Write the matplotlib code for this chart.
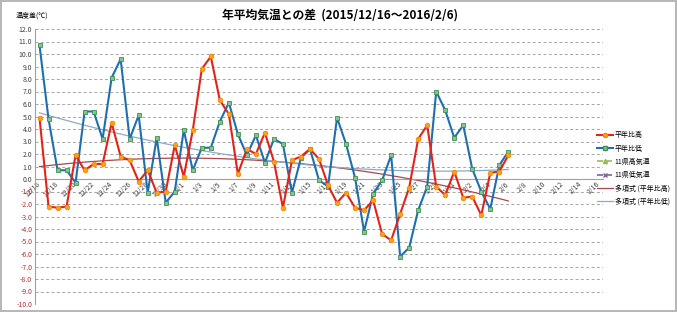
import matplotlib.pyplot as plt
import numpy as np
from matplotlib.lines import Line2D

plt.rcParams['font.family'] = ['Noto Sans CJK JP', 'DejaVu Sans']

# 2015/12/16 .. 2016/2/6 (daily)
high = [4.9, -2.2, -2.3, -2.2, 1.9, 0.7, 1.2, 1.2, 4.5, 1.8,
        1.5, -0.2, 0.7, -1.1, -1.0, 2.7, 0.2, 3.9, 8.8, 9.8,
        6.3, 5.2, 0.4, 2.4, 2.0, 3.7, 1.4, -2.3, 1.5, 1.8,
        2.4, 1.6, -0.5, -1.9, -1.1, -2.3, -2.5, -1.7, -4.4, -4.9,
        -2.8, -0.7, 3.2, 4.3, -0.6, -1.3, 0.6, -1.5, -1.4, -2.9,
        0.5, 0.6, 1.9]
low = [10.7, 4.8, 0.7, 0.7, -0.3, 5.4, 5.4, 3.2, 8.1, 9.6,
       3.2, 5.1, -1.1, 3.3, -1.9, -1.0, 3.9, 0.7, 2.5, 2.5,
       4.6, 6.1, 3.6, 1.9, 3.5, 1.3, 3.2, 2.8, -1.1, 1.7,
       2.4, -0.1, -0.6, 4.9, 2.8, 0.1, -4.2, -1.2, -0.1, 1.9,
       -6.2, -5.5, -2.5, -0.6, 7.0, 5.5, 3.3, 4.3, 0.8, -1.0,
       -2.4, 1.1, 2.2]
date_labels = ['12/16', '12/18', '12/20', '12/22', '12/24', '12/26', '12/28', '12/30',
               '1/1', '1/3', '1/5', '1/7', '1/9', '1/11', '1/13', '1/15', '1/17',
               '1/19', '1/21', '1/23', '1/25', '1/27', '1/29', '1/31',
               '2/2', '2/4', '2/6', '2/8', '2/10', '2/12', '2/14', '2/16']
n_days = 63  # category axis 12/16 .. 2/16

x = np.arange(len(high))

fig = plt.figure(figsize=(6.77, 3.12), dpi=100, edgecolor='#b8b8b8', linewidth=1.5)
ax = fig.add_axes([35 / 677, 8 / 312, 568 / 677, 275 / 312])

# axis line at 0 (do this first, it resets the ticks)
ax.spines['bottom'].set_position(('data', 0))
ax.spines['bottom'].set_color('#a0a0a0')
ax.spines['left'].set_color('#a0a0a0')
ax.spines['top'].set_visible(False)
ax.spines['right'].set_visible(False)

for v in range(-10, 13):
    if v != 0:
        ax.axhline(v, color='#a6a6a6', lw=0.7, ls=(0, (3, 2.5)), zorder=0)

# polynomial trend lines (order 2, like Excel)
xx = np.linspace(0, len(high) - 1, 200)
ax.plot(xx, np.polyval(np.polyfit(x, high, 2), xx), color='#a8484c', lw=0.9, zorder=2)
ax.plot(xx, np.polyval(np.polyfit(x, low, 2), xx), color='#8eaac8', lw=0.9, zorder=2)

ax.plot(x, high, color='#e2231a', lw=1.5, marker='o', ms=3.3,
        mfc='#f7a21c', mec='#f08800', mew=0.6, zorder=4)
ax.plot(x, low, color='#1f6fae', lw=1.5, marker='s', ms=3.3,
        mfc='#86c48a', mec='#3f8f55', mew=0.6, zorder=3)

ax.set_xlim(-0.5, n_days - 0.5)
ax.set_ylim(-10, 12)
ax.tick_params(length=0, pad=2)
ax.tick_params(axis='x', pad=3)
ax.set_yticks(range(-10, 13))
ax.set_yticklabels([f'{v:.1f}' for v in range(-10, 13)], fontsize=5)
for t, v in zip(ax.get_yticklabels(), range(-10, 13)):
    t.set_color('#b03030' if v < 0 else '#404040')
ax.set_xticks(range(0, n_days, 2))
ax.set_xticklabels(date_labels, fontsize=5, rotation=45, ha='right', va='center',
                   rotation_mode='anchor', color='#404040')

fig.text(0.502, 0.952, '年平均気温との差  (2015/12/16～2016/2/6)', ha='center', va='center',
         fontsize=8.5, fontweight='bold')
fig.text(16 / 677, 0.95, '温度差(℃)', ha='left', va='center', fontsize=5)

handles = [
    Line2D([], [], color='#e2231a', lw=1.5, marker='o', ms=3, mfc='#f7a21c', mec='#f08800'),
    Line2D([], [], color='#1f6fae', lw=1.5, marker='s', ms=3, mfc='#86c48a', mec='#3f8f55'),
    Line2D([], [], color='#9bbb59', lw=1.2, ls='--', marker='^', ms=3),
    Line2D([], [], color='#8064a2', lw=1.2, ls='--', marker='x', ms=3),
    Line2D([], [], color='#a8484c', lw=0.9),
    Line2D([], [], color='#8eaac8', lw=0.9),
]
labels = ['平年比高', '平年比低', '11県高気温', '11県低気温', '多項式 (平年比高)', '多項式 (平年比低)']
fig.legend(handles, labels, loc='upper left', bbox_to_anchor=(594 / 677, 1 - 128 / 312),
           frameon=False, fontsize=5, handlelength=2.2, handletextpad=0.3,
           labelspacing=0.75, borderpad=0)

fig.savefig('out.png', dpi=100)
